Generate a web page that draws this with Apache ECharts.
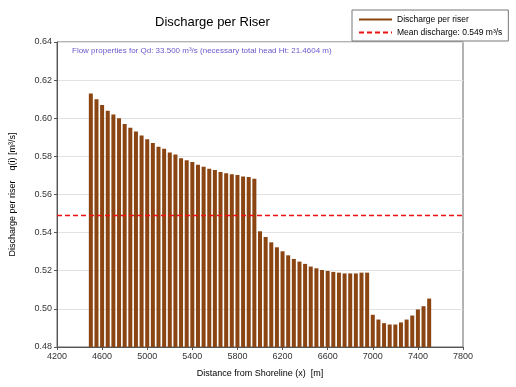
<!DOCTYPE html>
<html><head><meta charset="utf-8">
<script src="https://cdn.jsdelivr.net/npm/echarts@6/dist/echarts.min.js"></script>
<style>html,body{margin:0;padding:0;background:#fff}#c{width:516px;height:387px}</style>
</head><body><div id="c"></div>
<script>
const distances = [4500,4550,4600,4650,4700,4750,4800,4850,4900,4950,5000,5050,5100,5150,5200,5250,5300,5350,5400,5450,5500,5550,5600,5650,5700,5750,5800,5850,5900,5950,6000,6050,6100,6150,6200,6250,6300,6350,6400,6450,6500,6550,6600,6650,6700,6750,6800,6850,6900,6950,7000,7050,7100,7150,7200,7250,7300,7350,7400,7450,7500];
const discharge = [0.613,0.610,0.607,0.604,0.602,0.600,0.597,0.595,0.593,0.591,0.589,0.587,0.585,0.584,0.582,0.581,0.579,0.578,0.577,0.5756,0.5746,0.5735,0.5728,0.5718,0.5711,0.5706,0.5702,0.5695,0.5692,0.5683,0.5407,0.5377,0.5349,0.5323,0.5302,0.5281,0.5262,0.5248,0.5236,0.5222,0.5213,0.5204,0.5199,0.5194,0.519,0.5186,0.5186,0.5186,0.519,0.519,0.4969,0.4944,0.4925,0.4918,0.4918,0.4929,0.4944,0.4965,0.4997,0.5014,0.5054];
const meanDischarge = 0.549;
const xTicks = [4200,4600,5000,5400,5800,6200,6600,7000,7400,7800];
const yTicks = [0.48,0.50,0.52,0.54,0.56,0.58,0.60,0.62,0.64];
const seriesName = 'Discharge per riser';
const meanName = 'Mean discharge: 0.549 m³/s';
const titleText = 'Discharge per Riser';
const noteText = 'Flow properties for Qd: 33.500 m³/s (necessary total head Ht: 21.4604 m)';

const chart = echarts.init(document.getElementById('c'), null, {renderer:'canvas'});
const font = 'Liberation Sans, Arial, sans-serif';
chart.setOption({
  animation: false,
  textStyle: {fontFamily: font},
  title: {text: titleText, left: 150, top: 11, textStyle: {fontSize: 13, fontWeight: 'normal', color: '#000', fontFamily: font}},
  graphic: [{type: 'text', left: 72, top: 47, style: {text: noteText, fill: '#6a5acd', font: '8px ' + font}}],
  legend: {
    orient: 'vertical', left: 352, top: 10, padding: [5, 6, 4, 6],
    backgroundColor: '#fff', borderColor: '#777', borderWidth: 1,
    itemWidth: 33, itemHeight: 8, itemGap: 4, itemTextGap: 7,
    itemStyle: {opacity: 0},
    textStyle: {fontSize: 8.5, color: '#000', fontFamily: font},
    data: [seriesName, meanName]
  },
  grid: {left: 54, right: 53, top: 42, bottom: 40, show: true, borderColor: '#666', borderWidth: 1, backgroundColor: '#fff'},
  xAxis: {
    type: 'value', min: xTicks[0], max: xTicks[xTicks.length-1], interval: 400,
    name: 'Distance from Shoreline (x)  [m]', nameLocation: 'middle', nameGap: 22,
    nameTextStyle: {fontSize: 9, color: '#000'},
    axisLine: {lineStyle: {color: '#555'}}, axisTick: {length: 3, lineStyle: {color: '#555'}},
    axisLabel: {fontSize: 9, color: '#333', margin: 5, formatter: v => String(v)},
    splitLine: {show: false}
  },
  yAxis: {
    type: 'value', min: yTicks[0], max: yTicks[yTicks.length-1], interval: 0.02, startValue: yTicks[0],
    name: 'Discharge per riser    q(i) [m³/s]', nameLocation: 'middle', nameGap: 40,
    nameTextStyle: {fontSize: 9, color: '#000'},
    axisLine: {show: true, lineStyle: {color: '#555'}}, axisTick: {show: true, length: 3, lineStyle: {color: '#555'}},
    axisLabel: {fontSize: 9, color: '#333', margin: 5, formatter: v => v.toFixed(2)},
    splitLine: {show: true, lineStyle: {color: '#e2e2e2', width: 1}}
  },
  series: [
    {type: 'bar', name: 'bars', data: distances.map((d, i) => [d, discharge[i]]), barWidth: 4, clip: true,
     itemStyle: {color: '#8B4513'}},
    {type: 'line', name: seriesName, data: [], symbol: 'none', lineStyle: {color: '#8B4513', width: 3}, itemStyle: {color: '#8B4513'}},
    {type: 'line', name: meanName, data: [[xTicks[0], meanDischarge], [xTicks[xTicks.length-1], meanDischarge]], symbol: 'none',
     lineStyle: {color: '#ee1111', width: 1.5, type: [5, 3]}, itemStyle: {color: '#ee1111'}, z: 5}
  ]
});
</script></body></html>
